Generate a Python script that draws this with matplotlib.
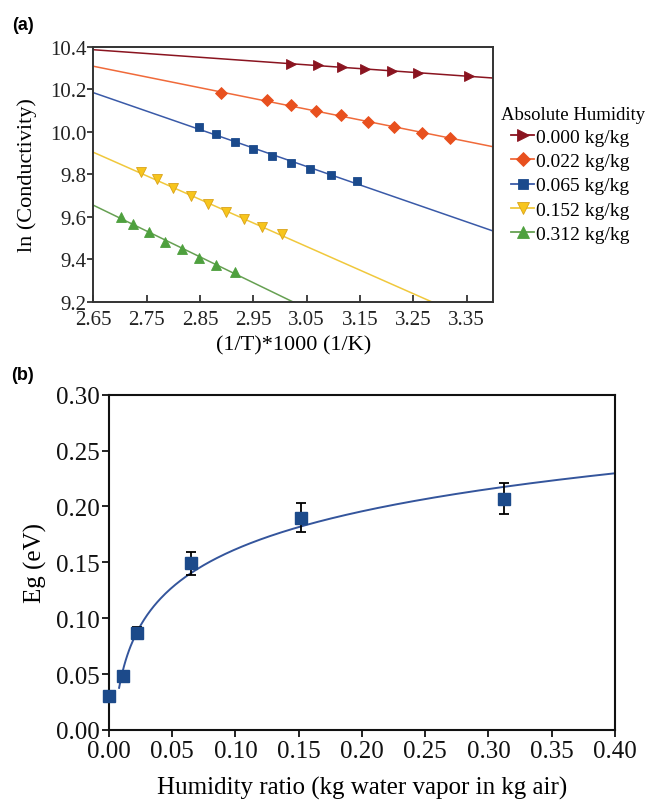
import numpy as np
import matplotlib.pyplot as plt

plt.rcParams['font.family'] = ['Liberation Serif', 'DejaVu Serif']

# (a) Arrhenius plot: 1000/T (1/K) vs ln(conductivity), one series per humidity
humidity_labels = ['0.000 kg/kg', '0.022 kg/kg', '0.065 kg/kg', '0.152 kg/kg', '0.312 kg/kg']

inv_t_000 = [3.020, 3.071, 3.116, 3.160, 3.211, 3.259, 3.355]
ln_s_000 = [10.320, 10.312, 10.304, 10.296, 10.285, 10.277, 10.262]

inv_t_022 = [2.889, 2.975, 3.021, 3.067, 3.114, 3.165, 3.214, 3.267, 3.318]
ln_s_022 = [10.183, 10.148, 10.124, 10.097, 10.077, 10.046, 10.025, 9.995, 9.971]

inv_t_065 = [2.848, 2.881, 2.916, 2.950, 2.985, 3.021, 3.057, 3.096, 3.144]
ln_s_065 = [10.021, 9.988, 9.953, 9.918, 9.887, 9.855, 9.827, 9.797, 9.768]

inv_t_152 = [2.739, 2.769, 2.800, 2.833, 2.866, 2.899, 2.933, 2.967, 3.003]
ln_s_152 = [9.810, 9.776, 9.735, 9.699, 9.660, 9.624, 9.589, 9.555, 9.518]

inv_t_312 = [2.702, 2.725, 2.754, 2.784, 2.816, 2.849, 2.881, 2.916]
ln_s_312 = [9.600, 9.569, 9.528, 9.480, 9.449, 9.409, 9.374, 9.343]

# (b) band gap vs humidity ratio
humidity = [0.000, 0.011, 0.022, 0.065, 0.152, 0.312]
eg = [0.030, 0.048, 0.087, 0.149, 0.190, 0.207]
eg_err = [0.002, 0.003, 0.005, 0.010, 0.013, 0.014]

series = [
    (inv_t_000, ln_s_000, '>', '#8a1420', '#8a1420', '#8a1420'),
    (inv_t_022, ln_s_022, 'D', '#e8501e', '#e8501e', '#f06a3a'),
    (inv_t_065, ln_s_065, 's', '#1b4a8c', '#1b4a8c', '#3a5aa8'),
    (inv_t_152, ln_s_152, 'v', '#f7c51c', '#d9a21a', '#f0c83c'),
    (inv_t_312, ln_s_312, '^', '#4ea03e', '#4ea03e', '#66a052'),
]
msizes = {'>': 7, 'D': 6, 's': 6, 'v': 7, '^': 7}

fig = plt.figure(figsize=(6.51, 8.04), dpi=100)

ax1 = fig.add_axes([0.1433, 0.6231, 0.6144, 0.3175])
xfit = np.linspace(2.65, 3.40, 50)
handles = []
for (x, y, m, fc, ec, lc), lab in zip(series, humidity_labels):
    k, b = np.polyfit(x, y, 1)
    ax1.plot(xfit, k * xfit + b, color=lc, lw=1.1, zorder=2)
    ax1.plot(x, y, ls='none', marker=m, ms=msizes[m], mfc=fc, mec=ec, mew=0.6, zorder=3)
    h, = ax1.plot([], [], color=lc, lw=1.3, marker=m, ms=msizes[m] + 1, mfc=fc, mec=ec, mew=0.6)
    handles.append(h)

ax1.set_xlim(2.65, 3.40)
ax1.set_ylim(9.2, 10.4)
ax1.set_xticks(np.arange(2.65, 3.36, 0.1))
ax1.set_yticks([9.2, 9.4, 9.6, 9.8, 10.0, 10.2, 10.4])
ax1.xaxis.set_major_formatter(plt.FormatStrFormatter('%.2f'))
ax1.yaxis.set_major_formatter(plt.FormatStrFormatter('%.1f'))
ax1.tick_params(axis='x', direction='in', length=5, width=1.2, labelsize=15, pad=6, colors='#222222')
ax1.tick_params(axis='y', direction='out', length=4, width=1.2, labelsize=15, pad=1, colors='#222222')
for sp in ax1.spines.values():
    sp.set_linewidth(1.4)
    sp.set_color('#333333')
ax1.set_xlabel('(1/T)*1000 (1/K)', fontsize=16, labelpad=4)
ax1.set_ylabel('ln (Conductivity)', fontsize=16, labelpad=9)

fig.text(501 / 651, 1 - 115 / 804, 'Absolute Humidity', fontsize=13.5, va='center', ha='left')
fig.legend(handles, humidity_labels,
           loc='upper left', bbox_to_anchor=(511 / 651, 1 - 129 / 804),
           frameon=False, fontsize=14,
           handlelength=1.2, handletextpad=0.1, labelspacing=0.35,
           borderpad=0, borderaxespad=0)

ax2 = fig.add_axes([0.1674, 0.0908, 0.7773, 0.4170])
hx = np.array(humidity)
hy = np.array(eg)
pos = hx > 0
b1, b0 = np.polyfit(np.log(hx[pos]), hy[pos], 1)
xc = np.linspace(0.008, 0.40, 300)
ax2.plot(xc, b0 + b1 * np.log(xc), color='#34559c', lw=1.4, zorder=2)
bars = ax2.errorbar(humidity, eg, yerr=eg_err, fmt='s', ms=9, mfc='#1c4a8a', mec='#1c4a8a',
                    ecolor='black', elinewidth=1.3, capsize=3.5, capthick=1.3, zorder=3)
for art in bars.lines[0:1] + bars.lines[1] + bars.lines[2]:
    art.set_clip_on(False)

ax2.set_xlim(0, 0.40)
ax2.set_ylim(0, 0.30)
ax2.set_xticks(np.arange(0, 0.401, 0.05))
ax2.set_yticks(np.arange(0, 0.301, 0.05))
ax2.xaxis.set_major_formatter(plt.FormatStrFormatter('%.2f'))
ax2.yaxis.set_major_formatter(plt.FormatStrFormatter('%.2f'))
ax2.tick_params(direction='out', length=5, width=1.3, labelsize=18, pad=2, colors='#111111')
for sp in ax2.spines.values():
    sp.set_linewidth(1.5)
    sp.set_color('#111111')
ax2.set_xlabel('Humidity ratio (kg water vapor in kg air)', fontsize=18, labelpad=10)
ax2.set_ylabel('Eg (eV)', fontsize=18, labelpad=6)

fig.text(12 / 651, 1 - 25 / 804, '(a)', fontsize=13, fontweight='bold',
         family='Liberation Sans', va='center', ha='left')
fig.text(11 / 651, 1 - 376 / 804, '(b)', fontsize=13, fontweight='bold',
         family='Liberation Sans', va='center', ha='left')

fig.savefig('out.png', dpi=100)
